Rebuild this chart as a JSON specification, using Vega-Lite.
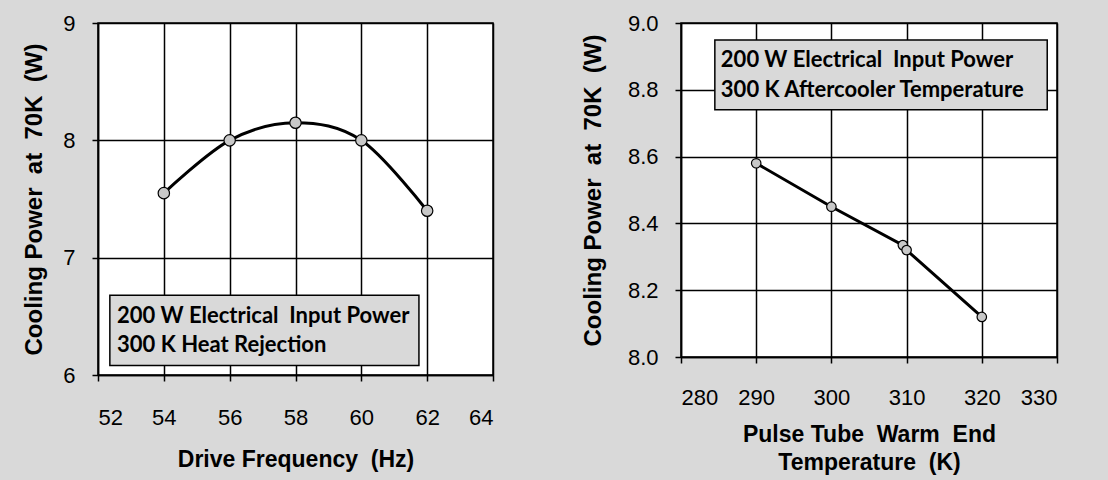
{
  "$schema": "https://vega.github.io/schema/vega-lite/v6.json",
  "background": "#d9d9d9",
  "padding": {"left": 22, "top": 11, "right": 50, "bottom": 8},
  "config": {
    "view": {"stroke": "black", "strokeWidth": 1.5, "fill": "white"},
    "axis": {
      "grid": true, "gridColor": "black", "gridWidth": 1.5, "gridOpacity": 1,
      "domainColor": "black", "domainWidth": 1.5,
      "tickColor": "black", "tickWidth": 1.5, "tickSize": 6,
      "labelFont": "Liberation Sans", "labelFontSize": 22, "labelColor": "black",
      "titleFont": "Liberation Sans", "titleFontSize": 23, "titleFontWeight": "bold", "titleColor": "black"
    },
    "axisY": {"titleFontSize": 24},
    "concat": {"spacing": 85}
  },
  "hconcat": [
    {
      "width": 395,
      "height": 352,
      "layer": [
        {
          "data": {"values": [{"freq": 54, "power": 7.55}, {"freq": 56, "power": 8.0}, {"freq": 58, "power": 8.15}, {"freq": 60, "power": 8.0}, {"freq": 62, "power": 7.4}]},
          "mark": {"type": "line", "interpolate": "cardinal", "color": "black", "strokeWidth": 3},
          "encoding": {
            "x": {"field": "freq", "type": "quantitative", "scale": {"domain": [52, 64], "nice": false, "zero": false},
                  "axis": {"values": [52, 54, 56, 58, 60, 62, 64], "format": "d", "labelPadding": 26, "titlePadding": 20, "title": "Drive Frequency\u00a0 (Hz)"}},
            "y": {"field": "power", "type": "quantitative", "scale": {"domain": [6, 9], "nice": false, "zero": false},
                  "axis": {"values": [6, 7, 8, 9], "format": "d", "labelPadding": 17, "titlePadding": 16, "title": "Cooling Power\u00a0 at\u00a0 70K\u00a0 (W)"}}
          }
        },
        {
          "data": {"values": [{"freq": 54, "power": 7.55}, {"freq": 56, "power": 8.0}, {"freq": 58, "power": 8.15}, {"freq": 60, "power": 8.0}, {"freq": 62, "power": 7.4}]},
          "mark": {"type": "point", "filled": true, "fill": "#c8c8c8", "stroke": "black", "strokeWidth": 1.2, "size": 130, "opacity": 1},
          "encoding": {
            "x": {"field": "freq", "type": "quantitative"},
            "y": {"field": "power", "type": "quantitative"}
          }
        },
        {
          "data": {"values": [{"x1": 52.36, "x2": 61.75, "y1": 6.08, "y2": 6.68}]},
          "mark": {"type": "rect", "fill": "#d9d9d9", "stroke": "black", "strokeWidth": 1.5},
          "encoding": {
            "x": {"field": "x1", "type": "quantitative"},
            "x2": {"field": "x2"},
            "y": {"field": "y1", "type": "quantitative"},
            "y2": {"field": "y2"}
          }
        },
        {
          "data": {"values": [{"x": 52.58, "y": 6.5, "label": "200 W Electrical\u00a0 Input Power"}, {"x": 52.58, "y": 6.255, "label": "300 K Heat Rejection"}]},
          "mark": {"type": "text", "align": "left", "baseline": "middle", "font": "Lato", "fontWeight": "bold", "fontSize": 22, "color": "black"},
          "encoding": {
            "x": {"field": "x", "type": "quantitative"},
            "y": {"field": "y", "type": "quantitative"},
            "text": {"field": "label"}
          }
        }
      ]
    },
    {
      "width": 376,
      "height": 334,
      "layer": [
        {
          "data": {"values": [{"temp": 290, "power": 8.58}, {"temp": 300, "power": 8.45}, {"temp": 309.5, "power": 8.335}, {"temp": 310, "power": 8.32}, {"temp": 320, "power": 8.12}]},
          "mark": {"type": "line", "color": "black", "strokeWidth": 3},
          "encoding": {
            "x": {"field": "temp", "type": "quantitative", "scale": {"domain": [280, 330], "nice": false, "zero": false},
                  "axis": {"values": [280, 290, 300, 310, 320, 330], "format": "d", "labelPadding": 24, "titlePadding": 15, "title": ["Pulse Tube\u00a0 Warm\u00a0 End", "Temperature\u00a0 (K)"], "titleLineHeight": 28}},
            "y": {"field": "power", "type": "quantitative", "scale": {"domain": [8, 9], "nice": false, "zero": false},
                  "axis": {"values": [8.0, 8.2, 8.4, 8.6, 8.8, 9.0], "format": ".1f", "labelPadding": 17, "titlePadding": 22, "title": "Cooling Power\u00a0 at\u00a0 70K\u00a0 (W)"}}
          }
        },
        {
          "data": {"values": [{"temp": 290, "power": 8.58}, {"temp": 300, "power": 8.45}, {"temp": 309.5, "power": 8.335}, {"temp": 310, "power": 8.32}, {"temp": 320, "power": 8.12}]},
          "mark": {"type": "point", "filled": true, "fill": "#c8c8c8", "stroke": "black", "strokeWidth": 1.2, "size": 90, "opacity": 1},
          "encoding": {
            "x": {"field": "temp", "type": "quantitative"},
            "y": {"field": "power", "type": "quantitative"}
          }
        },
        {
          "data": {"values": [{"x1": 284.5, "x2": 328.7, "y1": 8.74, "y2": 8.949}]},
          "mark": {"type": "rect", "fill": "#d9d9d9", "stroke": "black", "strokeWidth": 1.5},
          "encoding": {
            "x": {"field": "x1", "type": "quantitative"},
            "x2": {"field": "x2"},
            "y": {"field": "y1", "type": "quantitative"},
            "y2": {"field": "y2"}
          }
        },
        {
          "data": {"values": [{"x": 285.3, "y": 8.888, "label": "200 W Electrical\u00a0 Input Power"}, {"x": 285.3, "y": 8.8, "label": "300 K Aftercooler Temperature"}]},
          "mark": {"type": "text", "align": "left", "baseline": "middle", "font": "Lato", "fontWeight": "bold", "fontSize": 22, "color": "black"},
          "encoding": {
            "x": {"field": "x", "type": "quantitative"},
            "y": {"field": "y", "type": "quantitative"},
            "text": {"field": "label"}
          }
        }
      ]
    }
  ]
}
